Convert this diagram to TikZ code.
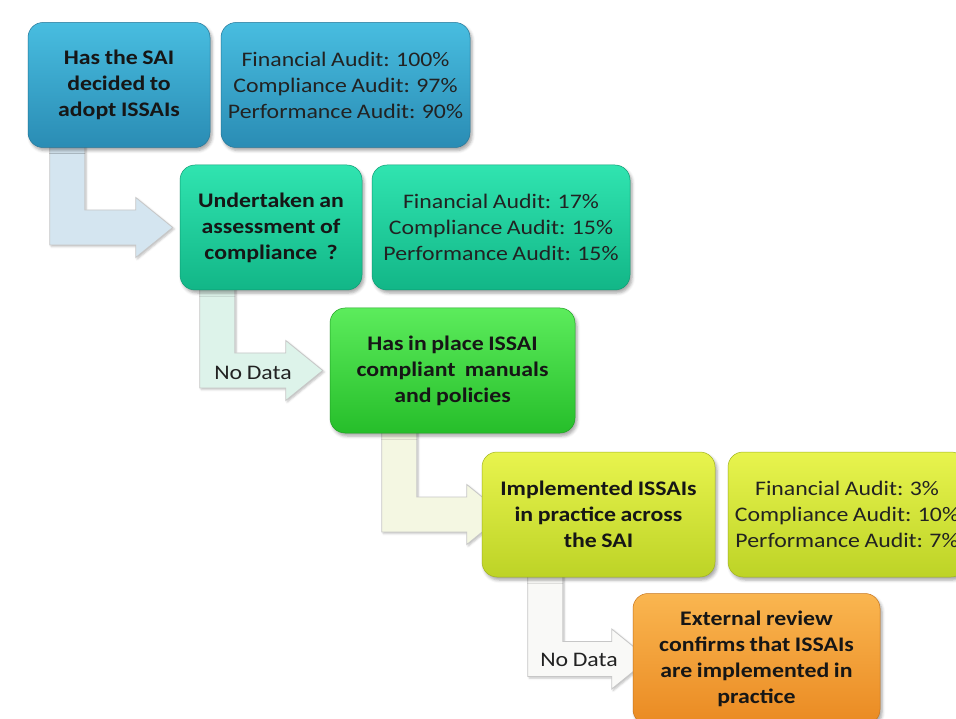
\documentclass[tikz,border=0pt]{standalone}
\usepackage{fontspec}
\setmainfont{Carlito}[FakeStretch=1.15, WordSpace=0.85,
  BoldFeatures={FakeStretch=1.15, WordSpace=0.85}]
\usetikzlibrary{calc,shadows.blur}

\pgfdeclarelayer{background}
\pgfsetlayers{background,main}

% box gradients (top / bottom)
\definecolor{tealA}{HTML}{48BDE0}\definecolor{tealB}{HTML}{2A8CB4}
\definecolor{mintA}{HTML}{30E4B0}\definecolor{mintB}{HTML}{12B687}
\definecolor{grnA}{HTML}{5CEC5C}\definecolor{grnB}{HTML}{26BE2A}
\definecolor{limeA}{HTML}{E8F44E}\definecolor{limeB}{HTML}{BDD326}
\definecolor{orgA}{HTML}{FAB650}\definecolor{orgB}{HTML}{EA8A22}
% bent arrow fills
\definecolor{arrBlue}{HTML}{D4E5F0}
\definecolor{arrMint}{HTML}{DDF3EA}
\definecolor{arrCream}{HTML}{F4F7E2}
\definecolor{arrWhite}{HTML}{F9F9F7}
\definecolor{ink}{HTML}{161616}
\definecolor{softink}{HTML}{222222}

\tikzset{
  card/.style 2 args={rounded corners=15pt, top color=#1, bottom color=#2,
    draw=#2!85!black, line width=0.5pt, inner sep=0pt, align=center,
    minimum height=125pt,
    blur shadow={shadow xshift=2pt, shadow yshift=-3pt,
      shadow blur radius=3pt, shadow opacity=35}},
  question/.style={text=ink, font=\bfseries\fontsize{20.7}{26}\selectfont},
  figures/.style={text=softink, font=\fontsize{20.7}{26}\selectfont},
  bendfill/.style={fill=#1, draw=black!22, line width=0.8pt,
    blur shadow={shadow xshift=1.5pt, shadow yshift=-1.5pt,
      shadow blur radius=2pt, shadow opacity=25}},
}

% L-shaped block arrow: #1 fill, #2 source node, #3 target node,
% #4 shaft offset from the source's lower left corner, #5 tip offset from the target's west side
\newcommand\bendarrow[5]{%
  \path[bendfill=#1] let \p1=(#2.south west), \p2=(#3.west) in
    (\x1+#4, \y1+8pt) -- (\x1+#4, \y2-17.5pt)
    -- (\x2+#5-37pt, \y2-17.5pt) -- (\x2+#5-37pt, \y2-30pt)
    -- (\x2+#5, \y2)
    -- (\x2+#5-37pt, \y2+30pt) -- (\x2+#5-37pt, \y2+17.5pt)
    -- (\x1+#4+35pt, \y2+17.5pt) -- (\x1+#4+35pt, \y1+8pt) -- cycle;
}

\begin{document}
\begin{tikzpicture}[x=1pt, y=-1pt]
  \useasboundingbox (0,0) rectangle (956,719);
  \clip (0,0) rectangle (956,719);

  % step 1
  \node[card={tealA}{tealB}, question, minimum width=182pt] (q1) at (119,85)
    {Has the SAI\\decided to\\adopt ISSAIs};
  \node[card={tealA}{tealB}, figures, minimum width=249pt] (s1) at (345.5,85)
    {Financial Audit: 100\%\\Compliance Audit: 97\%\\Performance Audit: 90\%};

  % step 2
  \node[card={mintA}{mintB}, question, minimum width=182pt] (q2) at (271,227.5)
    {Undertaken an\\assessment of\\compliance\ \ ?};
  \node[card={mintA}{mintB}, figures, minimum width=258pt] (s2) at (501,227.5)
    {Financial Audit: 17\%\\Compliance Audit: 15\%\\Performance Audit: 15\%};

  % step 3
  \node[card={grnA}{grnB}, question, minimum width=245pt] (q3) at (452.5,370.5)
    {Has in place ISSAI\\compliant\ \ manuals\\and policies};

  % step 4
  \node[card={limeA}{limeB}, question, minimum width=233pt] (q4) at (598.5,514.5)
    {Implemented ISSAIs\\in practice across\\the SAI};
  \node[card={limeA}{limeB}, figures, minimum width=238pt] (s4) at (847,514.5)
    {Financial Audit: 3\%\\Compliance Audit: 10\%\\Performance Audit: 7\%};

  % step 5
  \node[card={orgA}{orgB}, question, minimum width=247pt, minimum height=131pt] (q5) at (756.5,659)
    {External review\\confirms that ISSAIs\\are implemented in\\practice};

  % connectors between the steps
  \begin{pgfonlayer}{background}
    \bendarrow{arrBlue}{q1}{q2}{22pt}{-7pt}
    \bendarrow{arrMint}{q2}{q3}{20pt}{-7pt}
    \bendarrow{arrCream}{q3}{q4}{52pt}{22pt}
    \bendarrow{arrWhite}{q4}{q5}{46pt}{16pt}
  \end{pgfonlayer}

  \node[figures] (nd1) at (253,373) {No Data};
  \node[figures] (nd2) at (579,660) {No Data};
\end{tikzpicture}
\end{document}
